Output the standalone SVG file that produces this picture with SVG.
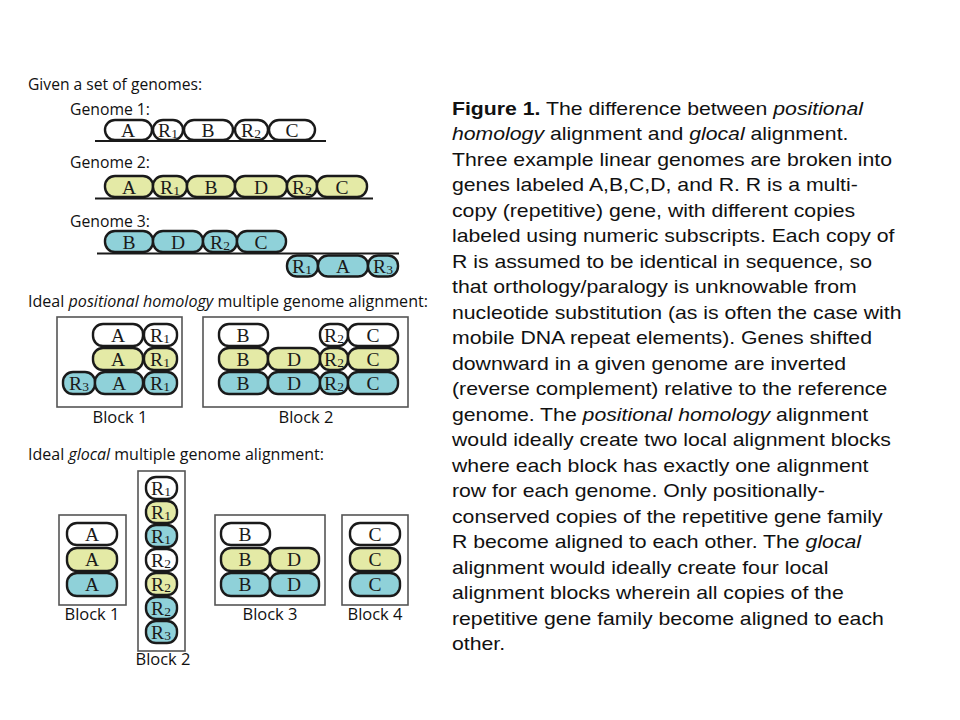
<svg xmlns="http://www.w3.org/2000/svg" width="960" height="720" viewBox="0 0 960 720">
<style>
.p{stroke:#1a1a1a;stroke-width:2.4}
.w{fill:#ffffff}
.y{fill:#e4eaa6}
.b{fill:#8fd1d9}
.g{font-family:"Liberation Serif","Times New Roman",serif;font-size:19.5px;fill:#1a1a1a;text-anchor:middle}
.s{font-size:13.5px}
.h{font-family:"Open Sans","Liberation Sans",sans-serif;font-size:17px;fill:#111}
.lb{font-family:"Open Sans","Liberation Sans",sans-serif;font-size:16.5px;fill:#111;text-anchor:middle}
.box{fill:none;stroke:#555;stroke-width:1.6}
.ln{stroke:#1a1a1a;stroke-width:2.2}
.cap{font-family:"Liberation Sans",Arial,sans-serif;font-size:18px;fill:#111}
</style>

<g id="headings">
<text class="h" x="28" y="90" textLength="174" lengthAdjust="spacingAndGlyphs">Given a set of genomes:</text>
<text class="h" x="70" y="115" textLength="80" lengthAdjust="spacingAndGlyphs">Genome 1:</text>
<text class="h" x="70" y="168" textLength="80" lengthAdjust="spacingAndGlyphs">Genome 2:</text>
<text class="h" x="70" y="227" textLength="80" lengthAdjust="spacingAndGlyphs">Genome 3:</text>
<text class="h" x="28" y="307" textLength="400" lengthAdjust="spacingAndGlyphs">Ideal <tspan font-style="italic">positional homology</tspan> multiple genome alignment:</text>
<text class="h" x="28" y="460" textLength="296" lengthAdjust="spacingAndGlyphs">Ideal <tspan font-style="italic">glocal</tspan> multiple genome alignment:</text>
</g>

<g id="genome1">
<line class="ln" x1="95" y1="141" x2="326" y2="141"/>
<rect class="p w" x="105" y="120" width="47" height="20" rx="10"/>
<rect class="p w" x="153" y="120" width="30" height="20" rx="10"/>
<rect class="p w" x="184" y="120" width="49" height="20" rx="10"/>
<rect class="p w" x="235" y="120" width="33" height="20" rx="10"/>
<rect class="p w" x="269" y="120" width="46" height="20" rx="10"/>
<text class="g" x="128" y="137">A</text>
<text class="g" x="168" y="137">R<tspan class="s" dy="1">1</tspan></text>
<text class="g" x="208" y="137">B</text>
<text class="g" x="251" y="137">R<tspan class="s" dy="1">2</tspan></text>
<text class="g" x="292" y="137">C</text>
</g>

<g id="genome2">
<line class="ln" x1="95" y1="198.5" x2="373" y2="198.5"/>
<rect class="p y" x="105" y="176" width="48" height="21" rx="10"/>
<rect class="p y" x="153" y="176" width="34" height="21" rx="10"/>
<rect class="p y" x="187" y="176" width="48" height="21" rx="10"/>
<rect class="p y" x="235" y="176" width="52" height="21" rx="10"/>
<rect class="p y" x="287" y="176" width="30" height="21" rx="10"/>
<rect class="p y" x="317" y="176" width="50" height="21" rx="10"/>
<text class="g" x="129" y="193.5">A</text>
<text class="g" x="170" y="193.5">R<tspan class="s" dy="1">1</tspan></text>
<text class="g" x="211" y="193.5">B</text>
<text class="g" x="261" y="193.5">D</text>
<text class="g" x="302" y="193.5">R<tspan class="s" dy="1">2</tspan></text>
<text class="g" x="342" y="193.5">C</text>
</g>

<g id="genome3">
<line class="ln" x1="97" y1="253.5" x2="399" y2="253.5"/>
<rect class="p b" x="105" y="231" width="48" height="21" rx="10"/>
<rect class="p b" x="153" y="231" width="50" height="21" rx="10"/>
<rect class="p b" x="203" y="231" width="34" height="21" rx="10"/>
<rect class="p b" x="237" y="231" width="49" height="21" rx="10"/>
<rect class="p b" x="287" y="255.5" width="31" height="21" rx="10"/>
<rect class="p b" x="318" y="255.5" width="50" height="21" rx="10"/>
<rect class="p b" x="368" y="255.5" width="30" height="21" rx="10"/>
<text class="g" x="129" y="248.5">B</text>
<text class="g" x="178" y="248.5">D</text>
<text class="g" x="220" y="248.5">R<tspan class="s" dy="1">2</tspan></text>
<text class="g" x="261" y="248.5">C</text>
<text class="g" x="302" y="273">R<tspan class="s" dy="1">1</tspan></text>
<text class="g" x="343" y="273">A</text>
<text class="g" x="383" y="273">R<tspan class="s" dy="1">3</tspan></text>
</g>

<g id="pos-block1">
<rect class="box" x="57" y="317" width="125" height="90"/>
<rect class="p w" x="93" y="324" width="50" height="22" rx="10"/>
<rect class="p w" x="144" y="324" width="33" height="22" rx="10"/>
<rect class="p y" x="93" y="348" width="50" height="22" rx="10"/>
<rect class="p y" x="144" y="348" width="33" height="22" rx="10"/>
<rect class="p b" x="63" y="372" width="32" height="22" rx="10"/>
<rect class="p b" x="95" y="372" width="48" height="22" rx="10"/>
<rect class="p b" x="144" y="372" width="33" height="22" rx="10"/>
<text class="g" x="118" y="342">A</text>
<text class="g" x="160" y="342">R<tspan class="s" dy="1">1</tspan></text>
<text class="g" x="118" y="366">A</text>
<text class="g" x="160" y="366">R<tspan class="s" dy="1">1</tspan></text>
<text class="g" x="79" y="390">R<tspan class="s" dy="1">3</tspan></text>
<text class="g" x="119" y="390">A</text>
<text class="g" x="160" y="390">R<tspan class="s" dy="1">1</tspan></text>
<text class="lb" x="120" y="423">Block 1</text>
</g>

<g id="pos-block2">
<rect class="box" x="203" y="317" width="205" height="90"/>
<rect class="p w" x="219" y="324" width="49" height="22" rx="10"/>
<rect class="p w" x="320" y="324" width="28" height="22" rx="10"/>
<rect class="p w" x="348" y="324" width="50" height="22" rx="10"/>
<rect class="p y" x="219" y="348" width="49" height="22" rx="10"/>
<rect class="p y" x="268" y="348" width="52" height="22" rx="10"/>
<rect class="p y" x="320" y="348" width="28" height="22" rx="10"/>
<rect class="p y" x="348" y="348" width="50" height="22" rx="10"/>
<rect class="p b" x="219" y="372" width="49" height="22" rx="10"/>
<rect class="p b" x="268" y="372" width="52" height="22" rx="10"/>
<rect class="p b" x="320" y="372" width="28" height="22" rx="10"/>
<rect class="p b" x="348" y="372" width="50" height="22" rx="10"/>
<text class="g" x="243" y="342">B</text>
<text class="g" x="334" y="342">R<tspan class="s" dy="1">2</tspan></text>
<text class="g" x="373" y="342">C</text>
<text class="g" x="243" y="366">B</text>
<text class="g" x="294" y="366">D</text>
<text class="g" x="334" y="366">R<tspan class="s" dy="1">2</tspan></text>
<text class="g" x="373" y="366">C</text>
<text class="g" x="243" y="390">B</text>
<text class="g" x="294" y="390">D</text>
<text class="g" x="334" y="390">R<tspan class="s" dy="1">2</tspan></text>
<text class="g" x="373" y="390">C</text>
<text class="lb" x="306" y="423">Block 2</text>
</g>

<g id="glocal-block1">
<rect class="box" x="59" y="515" width="67" height="90"/>
<rect class="p w" x="67" y="523" width="50" height="22" rx="10"/>
<rect class="p y" x="67" y="548" width="50" height="23" rx="10"/>
<rect class="p b" x="67" y="573" width="50" height="23" rx="10"/>
<text class="g" x="92" y="541">A</text>
<text class="g" x="92" y="566">A</text>
<text class="g" x="92" y="591">A</text>
<text class="lb" x="92" y="620">Block 1</text>
</g>

<g id="glocal-block2">
<rect class="box" x="138" y="471" width="47" height="180"/>
<rect class="p w" x="146" y="477" width="31" height="22" rx="10"/>
<rect class="p y" x="146" y="501" width="31" height="22" rx="10"/>
<rect class="p b" x="146" y="525" width="31" height="22" rx="10"/>
<rect class="p w" x="146" y="549" width="31" height="22" rx="10"/>
<rect class="p y" x="146" y="573" width="31" height="22" rx="10"/>
<rect class="p b" x="146" y="597" width="31" height="22" rx="10"/>
<rect class="p b" x="146" y="621" width="31" height="22" rx="10"/>
<text class="g" x="161" y="495">R<tspan class="s" dy="1">1</tspan></text>
<text class="g" x="161" y="519">R<tspan class="s" dy="1">1</tspan></text>
<text class="g" x="161" y="543">R<tspan class="s" dy="1">1</tspan></text>
<text class="g" x="161" y="567">R<tspan class="s" dy="1">2</tspan></text>
<text class="g" x="161" y="591">R<tspan class="s" dy="1">2</tspan></text>
<text class="g" x="161" y="615">R<tspan class="s" dy="1">2</tspan></text>
<text class="g" x="161" y="639">R<tspan class="s" dy="1">3</tspan></text>
<text class="lb" x="163" y="665">Block 2</text>
</g>

<g id="glocal-block3">
<rect class="box" x="215" y="515" width="110" height="90"/>
<rect class="p w" x="221" y="523" width="49" height="22" rx="10"/>
<rect class="p y" x="221" y="548" width="49" height="23" rx="10"/>
<rect class="p y" x="270" y="548" width="49" height="23" rx="10"/>
<rect class="p b" x="221" y="573" width="49" height="23" rx="10"/>
<rect class="p b" x="270" y="573" width="49" height="23" rx="10"/>
<text class="g" x="245" y="541">B</text>
<text class="g" x="245" y="566">B</text>
<text class="g" x="294" y="566">D</text>
<text class="g" x="245" y="591">B</text>
<text class="g" x="294" y="591">D</text>
<text class="lb" x="270" y="620">Block 3</text>
</g>

<g id="glocal-block4">
<rect class="box" x="342" y="515" width="66" height="90"/>
<rect class="p w" x="350" y="523" width="50" height="22" rx="10"/>
<rect class="p y" x="350" y="548" width="50" height="23" rx="10"/>
<rect class="p b" x="350" y="573" width="50" height="23" rx="10"/>
<text class="g" x="375" y="541">C</text>
<text class="g" x="375" y="566">C</text>
<text class="g" x="375" y="591">C</text>
<text class="lb" x="375" y="620">Block 4</text>
</g>

<g id="caption" class="cap" transform="translate(452 0) scale(1.18 1)">
<text x="0" y="115"><tspan font-weight="bold">Figure 1.</tspan> The difference between <tspan font-style="italic">positional</tspan></text>
<text x="0" y="140.5"><tspan font-style="italic">homology</tspan> alignment and <tspan font-style="italic">glocal</tspan> alignment.</text>
<text x="0" y="166">Three example linear genomes are broken into</text>
<text x="0" y="191.5">genes labeled A,B,C,D, and R. R is a multi-</text>
<text x="0" y="217">copy (repetitive) gene, with different copies</text>
<text x="0" y="242.5">labeled using numeric subscripts. Each copy of</text>
<text x="0" y="268">R is assumed to be identical in sequence, so</text>
<text x="0" y="293.5">that orthology/paralogy is unknowable from</text>
<text x="0" y="319">nucleotide substitution (as is often the case with</text>
<text x="0" y="344.5">mobile DNA repeat elements). Genes shifted</text>
<text x="0" y="370">downward in a given genome are inverted</text>
<text x="0" y="395.5">(reverse complement) relative to the reference</text>
<text x="0" y="421">genome. The <tspan font-style="italic">positional homology</tspan> alignment</text>
<text x="0" y="446.5">would ideally create two local alignment blocks</text>
<text x="0" y="472">where each block has exactly one alignment</text>
<text x="0" y="497.5">row for each genome. Only positionally-</text>
<text x="0" y="523">conserved copies of the repetitive gene family</text>
<text x="0" y="548.5">R become aligned to each other. The <tspan font-style="italic">glocal</tspan></text>
<text x="0" y="574">alignment would ideally create four local</text>
<text x="0" y="599.5">alignment blocks wherein all copies of the</text>
<text x="0" y="625">repetitive gene family become aligned to each</text>
<text x="0" y="650.5">other.</text>
</g>
</svg>
